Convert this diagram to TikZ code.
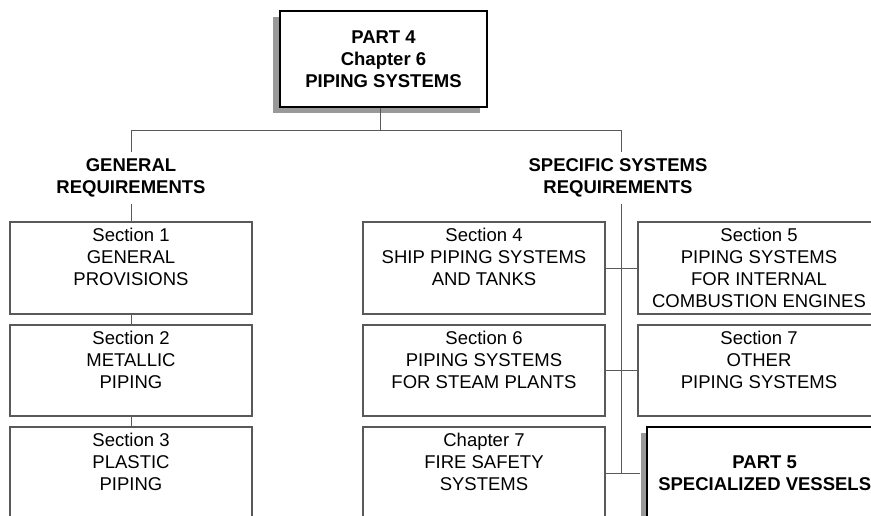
\documentclass[tikz,border=0pt]{standalone}
\usepackage{fontspec}
\setmainfont{Liberation Sans}
\usetikzlibrary{calc, positioning}
\usetikzlibrary{shadows}

\begin{document}
\begin{tikzpicture}[x=1pt, y=-1pt,
    secbox/.style={draw=black!65, line width=1.1pt, fill=white, inner sep=0pt,
        minimum width=242pt, minimum height=91pt, align=center,
        font=\fontsize{18.5}{22}\selectfont},
    partbox/.style={draw=black, line width=2.3pt, fill=white, inner sep=0pt,
        align=center, font=\fontsize{18.5}{22}\selectfont\bfseries},
    headtext/.style={inner sep=7pt, align=center,
        font=\fontsize{18.5}{22}\selectfont\bfseries},
    link/.style={draw=black!65, line width=0.9pt}]
\useasboundingbox (0,0) rectangle (871,515);
\clip (0,0) rectangle (871,515);

% Bus coordinates
\coordinate (busL) at (131,130);
\coordinate (busmid) at (380,130);
\coordinate (busR) at (621,130);

% Top box
\node[partbox, minimum width=207pt, minimum height=96pt,
    general shadow={fill=black!40, shadow xshift=-7pt, shadow yshift=-6pt}]
    (partfour) at (383.5,59) {PART 4\\Chapter 6\\PIPING SYSTEMS};

% Headings
\node[headtext] (genreq) at (131,178) {GENERAL\\REQUIREMENTS};
\node[headtext] (specreq) at (618,178) {SPECIFIC SYSTEMS\\REQUIREMENTS};

% Left column
\node[secbox, minimum height=92pt] (secone) at (131,268)
    {Section 1\\GENERAL\\PROVISIONS\\\mbox{}};
\node[secbox] (sectwo) at (131,370.5) {Section 2\\METALLIC\\PIPING\\\mbox{}};
\node[secbox, minimum height=92pt] (secthree) at (131,473)
    {Section 3\\PLASTIC\\PIPING\\\mbox{}};

% Right columns
\node[secbox, minimum height=92pt] (secfour) at (484,268)
    {Section 4\\SHIP PIPING SYSTEMS\\AND TANKS\\\mbox{}};
\node[secbox, minimum height=92pt] (secfive) at (759,268)
    {Section 5\\PIPING SYSTEMS\\FOR INTERNAL\\COMBUSTION ENGINES};
\node[secbox] (secsix) at (484,370.5)
    {Section 6\\PIPING SYSTEMS\\FOR STEAM PLANTS\\\mbox{}};
\node[secbox] (secseven) at (759,370.5)
    {Section 7\\OTHER\\PIPING SYSTEMS\\\mbox{}};
\node[secbox, minimum height=92pt] (chseven) at (484,473)
    {Chapter 7\\FIRE SAFETY\\SYSTEMS\\\mbox{}};

% Connectors
\draw[link] (busmid |- partfour.south) -- (busmid);
\draw[link] (busL) -- (busR);
\draw[link] (busL) -- (genreq.north);
\draw[link] (genreq.south) -- (secone.north);
\draw[link] (secone.south) -- (sectwo.north);
\draw[link] (sectwo.south) -- (secthree.north);
\draw[link] (busR) -- (busR |- specreq.north);
\draw[link] (busR |- specreq.south) -- (busR |- chseven.east);
\draw[link] (secfour.east) -- (secfive.west);
\draw[link] (secsix.east) -- (secseven.west);
\draw[link] (chseven.east) -- ++(34,0) coordinate (partjoin);

% Next part
\node[partbox, minimum width=236pt, minimum height=92pt, right=6pt of partjoin,
    general shadow={fill=black!40, shadow xshift=-6pt, shadow yshift=-6pt}]
    (partfive) {PART 5\\SPECIALIZED VESSELS};
\end{tikzpicture}
\end{document}
